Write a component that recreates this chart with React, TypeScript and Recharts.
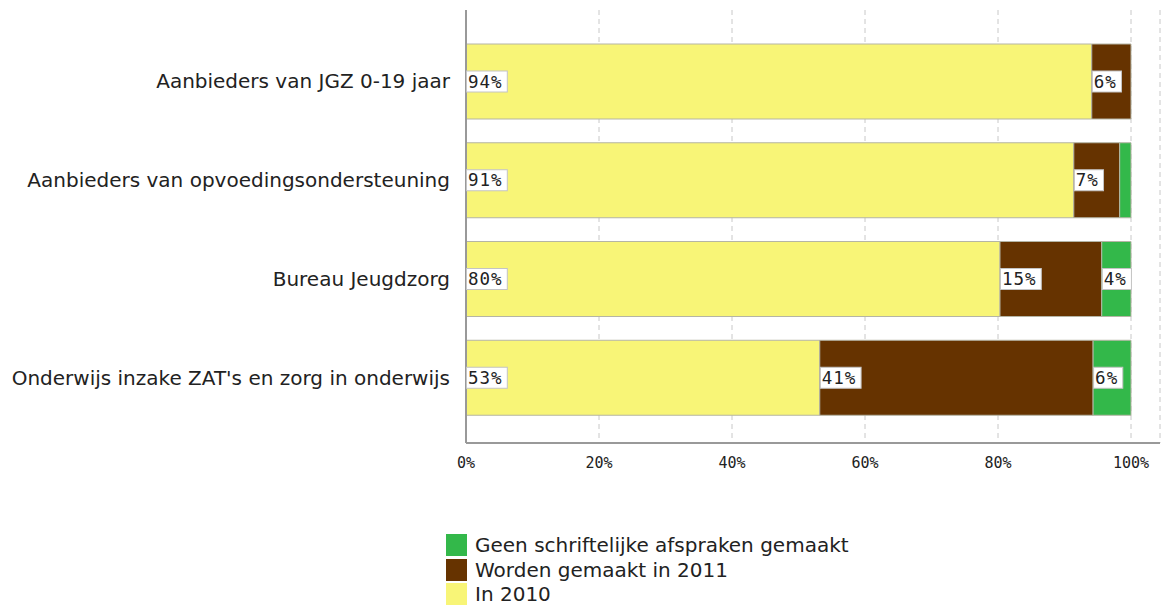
import React from 'react';
import { BarChart, Bar, XAxis, YAxis, CartesianGrid, LabelList } from 'recharts';

const categories = [
  'Aanbieders van JGZ 0-19 jaar',
  'Aanbieders van opvoedingsondersteuning',
  'Bureau Jeugdzorg',
  "Onderwijs inzake ZAT's en zorg in onderwijs",
];
const in2010 = [94.1, 91.4, 80.3, 53.2];
const worden2011 = [5.9, 6.9, 15.3, 41.1];
const geenAfspraken = [0, 1.7, 4.4, 5.7];
const xTicks = [0, 20, 40, 60, 80, 100];

const series = [
  { key: 'in2010', name: 'In 2010', color: '#F8F577' },
  { key: 'worden2011', name: 'Worden gemaakt in 2011', color: '#663300' },
  { key: 'geen', name: 'Geen schriftelijke afspraken gemaakt', color: '#33B84A' },
];

const data = categories.map((name, i) => ({
  name,
  in2010: in2010[i],
  worden2011: worden2011[i],
  geen: geenAfspraken[i],
}));

const monoFont = '"DejaVu Sans Mono", monospace';
const sansFont = '"DejaVu Sans", sans-serif';

const ValueLabel = (props: any) => {
  const { x, y, height, value } = props;
  if (value == null || value < 3) return null;
  const text = `${Math.round(value)}%`;
  const w = text.length * 11.6 + 6;
  const h = 21;
  const cy = y + height / 2;
  return (
    <g>
      <rect x={x + 0.5} y={cy - h / 2} width={w} height={h} fill="#fff" stroke="#c4c4c4" strokeWidth={1} />
      <text x={x + 2} y={cy + 6} fontFamily={monoFont} fontSize={17.5} letterSpacing={1} fill="#222">
        {text}
      </text>
    </g>
  );
};

const App: React.FC = () => {
  return (
    <div style={{ position: 'absolute', left: 0, top: 0, width: 1163, height: 610, background: '#fff' }}>
      <BarChart
        layout="vertical"
        width={1163}
        height={610}
        data={data}
        margin={{ top: 10, right: 3, bottom: 137, left: 0 }}
      >
        <CartesianGrid horizontal={false} stroke="#c8c8c8" strokeDasharray="5 4" />
        <XAxis
          type="number"
          domain={[0, 100]}
          ticks={xTicks}
          tickFormatter={(v) => `${v}%`}
          padding={{ left: 0, right: 29 }}
          axisLine={{ stroke: '#999', strokeWidth: 2 }}
          tickLine={false}
          tickMargin={8}
          tick={{ fill: '#222', fontSize: 15, fontFamily: monoFont }}
          height={30}
        />
        <YAxis
          type="category"
          dataKey="name"
          width={466}
          padding={{ top: 22, bottom: 16 }}
          axisLine={{ stroke: '#999', strokeWidth: 2 }}
          tickLine={false}
          tickMargin={10}
          tick={{ fill: '#222', fontSize: 20, fontFamily: sansFont }}
        />
        {series.map((s) => (
          <Bar
            key={s.key}
            dataKey={s.key}
            name={s.name}
            stackId="a"
            fill={s.color}
            stroke="#b5b5a5"
            strokeWidth={1}
            barSize={75}
            isAnimationActive={false}
          >
            <LabelList dataKey={s.key} content={ValueLabel} />
          </Bar>
        ))}
      </BarChart>
      <div style={{ position: 'absolute', left: 446, top: 533, fontFamily: sansFont, fontSize: 20, color: '#222' }}>
        {series
          .slice()
          .reverse()
          .map((s) => (
            <div key={s.key} style={{ display: 'flex', alignItems: 'center', height: 24.5 }}>
              <span
                style={{ display: 'inline-block', width: 21, height: 22, background: s.color, marginRight: 8 }}
              />
              <span>{s.name}</span>
            </div>
          ))}
      </div>
    </div>
  );
};

export default App;
